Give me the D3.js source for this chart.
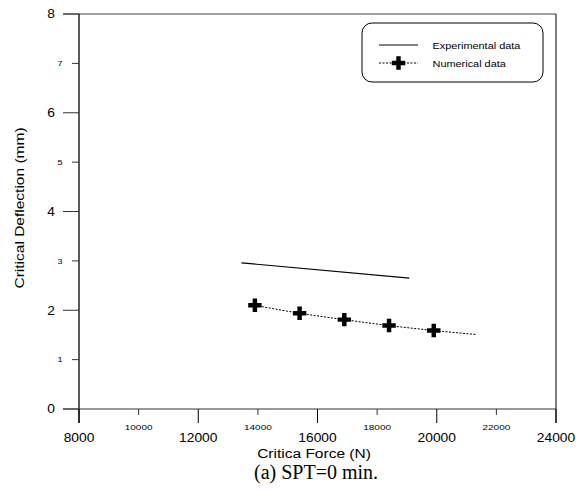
<!DOCTYPE html>
<html>
<head>
<meta charset="utf-8">
<script src="https://cdn.jsdelivr.net/npm/d3@7"></script>
<style>
  body { margin: 0; background: #fff; }
  text { font-family: "Liberation Sans", Arial, sans-serif; fill: #000; }
</style>
</head>
<body>
<svg id="chart" width="576" height="491"></svg>
<script>
// values
const majorXTicks = [8000, 12000, 16000, 20000, 24000];
const minorXTicks = [10000, 14000, 18000, 22000];
const majorYTicks = [0, 2, 4, 6, 8];
const minorYTicks = [1, 3, 5, 7];

const expForce = [13450, 19080];
const expDeflection = [2.96, 2.65];

const numForce = [13900, 15400, 16900, 18400, 19900];
const numDeflection = [2.10, 1.94, 1.81, 1.69, 1.59];

// dashed trend through the numerical points, running past the last one
const fitForce = [13900, 15400, 16900, 18400, 19900, 21300];
const fitDeflection = [2.10, 1.94, 1.81, 1.69, 1.59, 1.51];

const legendLabels = ['Experimental data', 'Numerical data'];

const svg = d3.select('#chart');
const plotL = 79, plotR = 556, plotT = 14, plotB = 409;
const stretch = 1.15; // the original text is a bit wider than it is tall

const x = d3.scaleLinear().domain([8000, 24000]).range([plotL, plotR]);
const y = d3.scaleLinear().domain([0, 8]).range([plotB, plotT]);

// place a horizontally stretched label
function label (sel, px, py, sx) {
    return sel.attr('transform', 'translate(' + px + ',' + py + ') scale(' + sx + ',1)');
}

// frame: top line gray, right line black
svg.append('line')
    .attr('x1', plotL - 16).attr('x2', plotR)
    .attr('y1', plotT).attr('y2', plotT)
    .style('stroke', '#808080').style('stroke-width', '1.5px');
svg.append('line')
    .attr('x1', plotR).attr('x2', plotR)
    .attr('y1', plotT).attr('y2', plotB + 14)
    .style('stroke', '#000').style('stroke-width', '1px');

// y axis
const yAxis = svg.append('g');
yAxis.append('line')
    .attr('x1', plotL).attr('x2', plotL)
    .attr('y1', plotT).attr('y2', plotB + 14)
    .style('stroke', '#000').style('stroke-width', '1.3px');
yAxis.selectAll('.ymaj')
    .data(majorYTicks)
    .enter()
    .append('line')
    .attr('x1', plotL - 16).attr('x2', plotL)
    .attr('y1', d => y(d)).attr('y2', d => y(d))
    .style('stroke', '#333').style('stroke-width', '1px');
yAxis.selectAll('.ymin')
    .data(minorYTicks)
    .enter()
    .append('line')
    .attr('x1', plotL - 7).attr('x2', plotL)
    .attr('y1', d => y(d)).attr('y2', d => y(d))
    .style('stroke', '#333').style('stroke-width', '1px');
yAxis.selectAll('.ymajlab')
    .data(majorYTicks)
    .enter()
    .append('text')
    .each(function (d) { label(d3.select(this), plotL - 28, y(d), stretch); })
    .attr('dy', '0.36em')
    .attr('text-anchor', 'middle')
    .style('font-size', '12px')
    .text(d => d);
yAxis.selectAll('.yminlab')
    .data(minorYTicks)
    .enter()
    .append('text')
    .each(function (d) { label(d3.select(this), plotL - 19, y(d), 1.2); })
    .attr('dy', '0.36em')
    .attr('text-anchor', 'middle')
    .style('font-size', '7.5px')
    .text(d => d);

// x axis
const xAxis = svg.append('g');
xAxis.append('line')
    .attr('x1', plotL - 16).attr('x2', plotR)
    .attr('y1', plotB).attr('y2', plotB)
    .style('stroke', '#333').style('stroke-width', '1px');
xAxis.selectAll('.xmaj')
    .data(majorXTicks)
    .enter()
    .append('line')
    .attr('x1', d => x(d)).attr('x2', d => x(d))
    .attr('y1', plotB).attr('y2', plotB + 14)
    .style('stroke', '#000').style('stroke-width', '1px');
xAxis.selectAll('.xmin')
    .data(minorXTicks)
    .enter()
    .append('line')
    .attr('x1', d => x(d)).attr('x2', d => x(d))
    .attr('y1', plotB).attr('y2', plotB + 6)
    .style('stroke', '#333').style('stroke-width', '1px');
xAxis.selectAll('.xmajlab')
    .data(majorXTicks)
    .enter()
    .append('text')
    .each(function (d) { label(d3.select(this), x(d), plotB + 33, stretch); })
    .attr('text-anchor', 'middle')
    .style('font-size', '12px')
    .text(d => d);
xAxis.selectAll('.xminlab')
    .data(minorXTicks)
    .enter()
    .append('text')
    .each(function (d) { label(d3.select(this), x(d), plotB + 21, 1.25); })
    .attr('text-anchor', 'middle')
    .style('font-size', '8px')
    .text(d => d);

// axis titles and caption
label(svg.append('text'), 314, 457.5, stretch)
    .attr('text-anchor', 'middle')
    .style('font-size', '13.5px')
    .text('Critica Force (N)');
svg.append('text')
    .attr('transform', 'translate(24,208) rotate(-90) scale(' + stretch + ',1)')
    .attr('text-anchor', 'middle')
    .style('font-size', '13.5px')
    .text('Critical Deflection (mm)');
svg.append('text')
    .attr('x', 316).attr('y', 479)
    .attr('text-anchor', 'middle')
    .style('font-family', '"Liberation Serif", "Times New Roman", serif')
    .style('font-size', '20px')
    .text('(a) SPT=0 min.');

// data
const line = d3.line().x(d => x(d[0])).y(d => y(d[1]));

svg.append('path')
    .datum(d3.zip(expForce, expDeflection))
    .attr('d', line)
    .style('fill', 'none').style('stroke', '#000').style('stroke-width', '1.2px');

svg.append('path')
    .datum(d3.zip(fitForce, fitDeflection))
    .attr('d', line.curve(d3.curveMonotoneX))
    .style('fill', 'none').style('stroke', '#000').style('stroke-width', '1px')
    .style('stroke-dasharray', '2,1.5');

const plus = d3.symbol().type(d3.symbolCross).size(100);
svg.selectAll('.marker')
    .data(d3.zip(numForce, numDeflection))
    .enter()
    .append('path')
    .attr('d', plus)
    .attr('transform', d => 'translate(' + x(d[0]) + ',' + y(d[1]) + ')')
    .style('fill', '#000');

// legend
const legend = svg.append('g');
legend.append('rect')
    .attr('x', 362).attr('y', 23).attr('width', 181).attr('height', 59)
    .attr('rx', 10).attr('ry', 10)
    .style('fill', '#fff').style('stroke', '#000').style('stroke-width', '1px');
legend.append('line')
    .attr('x1', 379).attr('x2', 418).attr('y1', 45).attr('y2', 45)
    .style('stroke', '#000').style('stroke-width', '1px');
legend.append('line')
    .attr('x1', 379).attr('x2', 418).attr('y1', 63).attr('y2', 63)
    .style('stroke', '#000').style('stroke-width', '1px')
    .style('stroke-dasharray', '2,1.5');
legend.append('path')
    .attr('d', plus)
    .attr('transform', 'translate(398.5,63)')
    .style('fill', '#000');
legend.selectAll('.leglab')
    .data(legendLabels)
    .enter()
    .append('text')
    .each(function (d, i) { label(d3.select(this), 432.5, 45.5 + i * 18, stretch); })
    .attr('dy', '0.36em')
    .style('font-size', '9.5px')
    .text(d => d);
</script>
</body>
</html>
